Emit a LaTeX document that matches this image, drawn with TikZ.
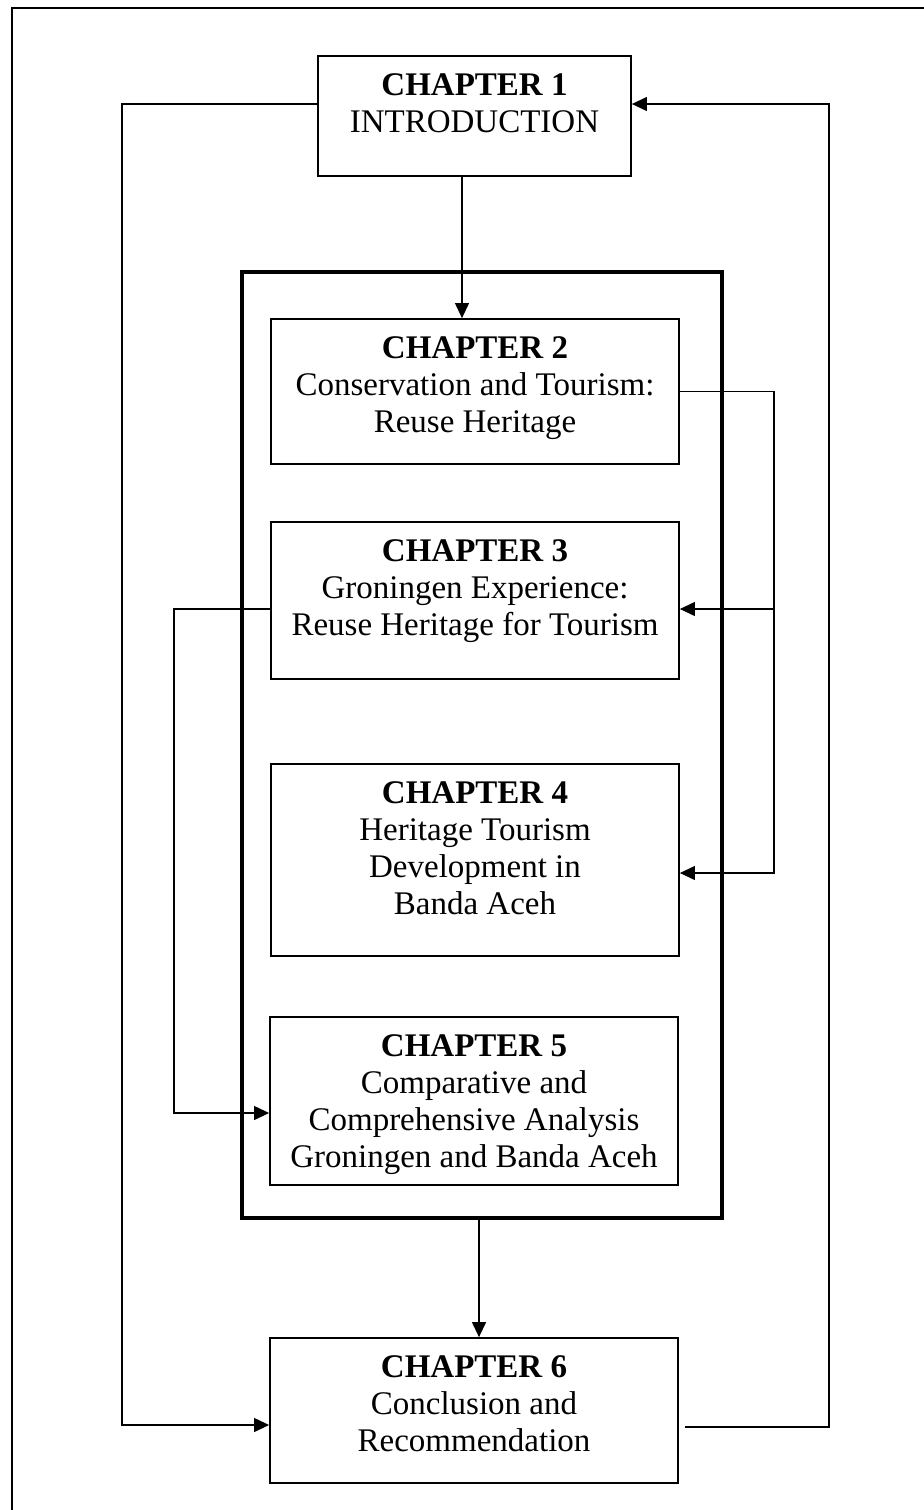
\documentclass[tikz,border=0pt]{standalone}
\usepackage{fontspec}
\setmainfont{Liberation Serif}
\usetikzlibrary{arrows.meta}
\begin{document}
\begin{tikzpicture}[x=0.5pt,y=-0.5pt,
  box/.style={draw, line width=0.9pt, inner sep=0pt},
  lbl/.style={anchor=north, align=center, inner sep=0pt, font=\fontsize{16.5}{18.5}\selectfont},
  conn/.style={line width=0.6pt},
  arr/.style={conn, -{Triangle[length=7.5pt,width=7pt]}},
  bigframe/.style={draw, line width=1.6pt, inner sep=0pt}]
\useasboundingbox (0,0) rectangle (923,1510);
\draw[line width=1.3pt] (12,8) rectangle (960,1560);

% boxes
\node[box, minimum width=156.5pt, minimum height=60pt] (c1) at (474.5,116) {};
\node[bigframe, minimum width=240pt, minimum height=473pt] (fr) at (482,745) {};
\node[box, minimum width=204pt, minimum height=72.5pt] (c2) at (475,391.5) {};
\node[box, minimum width=204pt, minimum height=78.5pt] (c3) at (475,600.5) {};
\node[box, minimum width=204pt, minimum height=96pt] (c4) at (475,860) {};
\node[box, minimum width=204pt, minimum height=84pt] (c5) at (474,1101) {};
\node[box, minimum width=204pt, minimum height=72.5pt] (c6) at (474,1410.5) {};

% labels
\node[lbl] (t1) at ([yshift=-9pt]c1.north) {\textbf{CHAPTER 1}\\INTRODUCTION};
\node[lbl] (t2) at ([yshift=-9pt]c2.north) {\textbf{CHAPTER 2}\\Conservation and Tourism:\\Reuse Heritage};
\node[lbl] (t3) at ([yshift=-9pt]c3.north) {\textbf{CHAPTER 3}\\Groningen Experience:\\Reuse Heritage for Tourism};
\node[lbl] (t4) at ([yshift=-9pt]c4.north) {\textbf{CHAPTER 4}\\Heritage Tourism\\Development in\\Banda Aceh};
\node[lbl] (t5) at ([yshift=-9pt]c5.north) {\textbf{CHAPTER 5}\\Comparative and\\Comprehensive Analysis\\Groningen and Banda Aceh};
\node[lbl] (t6) at ([yshift=-9pt]c6.north) {\textbf{CHAPTER 6}\\Conclusion and\\Recommendation};

% helper coordinates
\coordinate (lx) at (122,0);
\coordinate (rx) at (829,0);
\coordinate (rx2) at (774,0);
\coordinate (lx2) at (174,0);
\coordinate (c1w) at ([yshift=6pt]c1.west);
\coordinate (c1e) at ([yshift=6pt]c1.east);
\coordinate (c6in) at ([yshift=-7.25pt]c6.west);
\coordinate (c6out) at ([xshift=3pt,yshift=-8.25pt]c6.east);
\coordinate (c3in) at ([yshift=-4.25pt]c3.east);
\coordinate (c4in) at ([yshift=-6.5pt]c4.east);
\coordinate (c3out) at ([yshift=-4.25pt]c3.west);
\coordinate (c5in) at ([yshift=-6pt]c5.west);
\coordinate (c1s) at ([xshift=-6.25pt]c1.south);
\coordinate (frs) at ([xshift=-1.5pt,yshift=2pt]fr.south);

% connectors
\draw[arr] (c1w) -| (lx |- c6in) -- (c6in);
\draw[arr] (c6out) -| (rx |- c1e) -- (c1e);
\draw[arr] (c1s) -- (c1s |- c2.north);
\draw[arr] (c2.east) -| (rx2 |- c4in) -- (c4in);
\draw[arr] (rx2 |- c3in) -- (c3in);
\draw[arr] (c3out) -| (lx2 |- c5in) -- (c5in);
\draw[arr] (frs) -- (frs |- c6.north);
\end{tikzpicture}
\end{document}
